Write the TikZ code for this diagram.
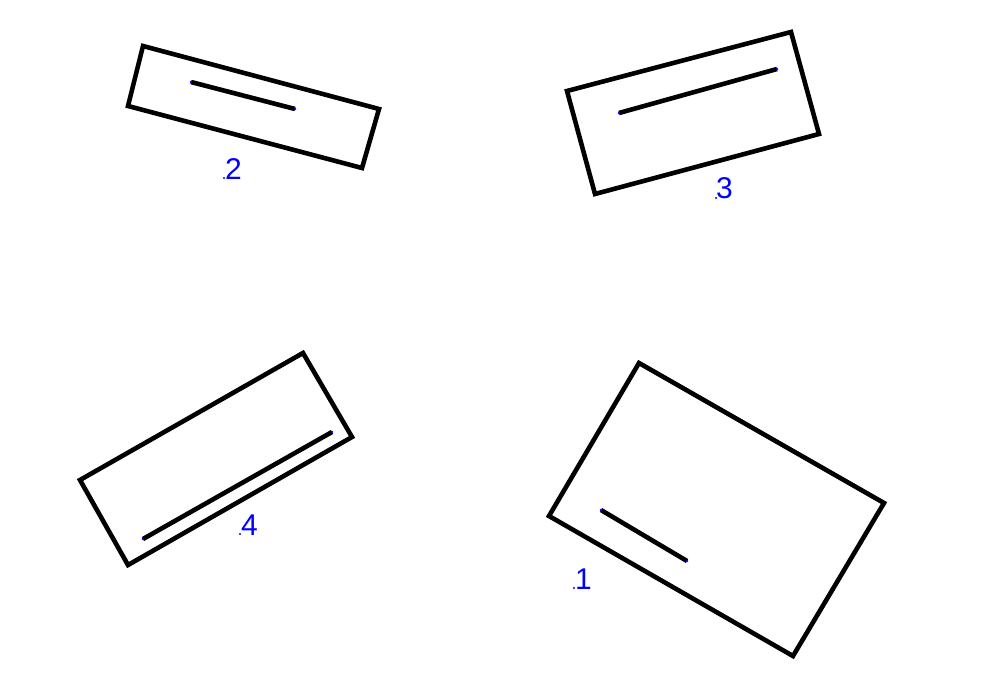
\documentclass[tikz,border=0pt]{standalone}
\usepackage{fontspec}
\setmainfont{Liberation Sans}
\begin{document}
\begin{tikzpicture}[x=1pt,y=-1pt,
  boxline/.style={draw=black,line width=4.6pt,line join=miter},
  barline/.style={draw=black,line width=4.6pt},
  mk/.style={fill=blue,draw=none},
  lbl/.style={text=blue,font=\fontsize{30}{30}\selectfont,inner sep=0pt,anchor=base west}]
\useasboundingbox (0,0) rectangle (985,696);
\fill[white] (0,0) rectangle (985,696);
% rectangle 2
\draw[boxline] (143,46) -- (379,109) -- (362,168) -- (128,106) -- cycle;
\coordinate (a2) at (191,82); \coordinate (b2) at (295,109);
\draw[barline] (a2) -- (b2);
% rectangle 3
\draw[boxline] (567,91) -- (791,32) -- (819,134) -- (595,194) -- cycle;
\coordinate (a3) at (619,113); \coordinate (b3) at (777,69);
\draw[barline] (a3) -- (b3);
% rectangle 4
\draw[boxline] (80,480) -- (303,353) -- (352,437) -- (128,565) -- cycle;
\coordinate (a4) at (143,539); \coordinate (b4) at (332,432);
\draw[barline] (a4) -- (b4);
% rectangle 1
\draw[boxline] (639,363) -- (884,503) -- (793,656) -- (549,516) -- cycle;
\coordinate (a1) at (601,510); \coordinate (b1) at (687,561);
\draw[barline] (a1) -- (b1);
% end markers
\foreach \p in {a1,b1,a2,b2,a3,b3,a4,b4} \fill[mk] (\p) circle (1.3pt);
% labels
\coordinate (d2) at (224,178); \coordinate (d3) at (716,198);
\coordinate (d4) at (240,534); \coordinate (d1) at (574,588);
\foreach \p in {d1,d2,d3,d4} \fill[mk] (\p) circle (1.1pt);
\node[lbl] (l2) at (225,179) {2};
\node[lbl] (l3) at (716,198) {3};
\node[lbl] (l4) at (241,535) {4};
\node[lbl] (l1) at (575,589) {1};
\end{tikzpicture}
\end{document}
